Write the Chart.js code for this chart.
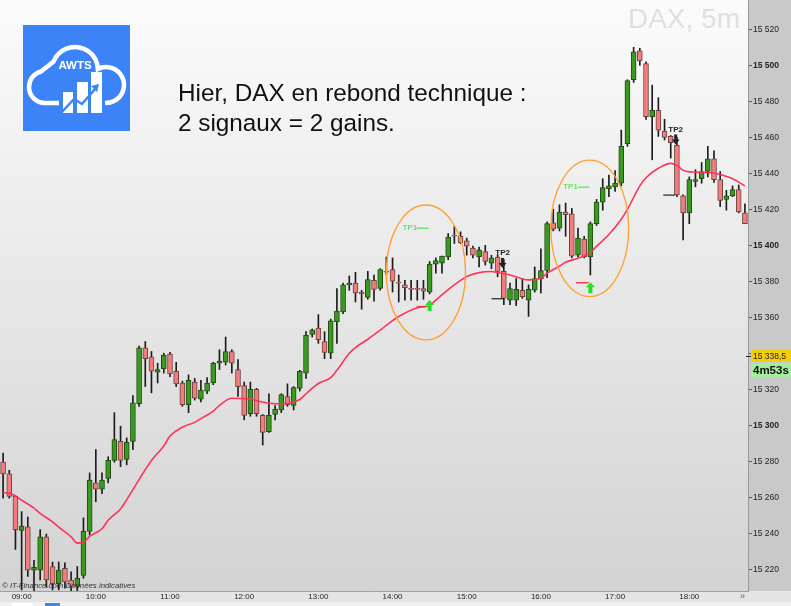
<!DOCTYPE html>
<html>
<head>
<meta charset="utf-8">
<script src="https://cdn.jsdelivr.net/npm/chart.js@4.4.0/dist/chart.umd.min.js"></script>
<style>
  html, body { margin: 0; padding: 0; background: #fff; overflow: hidden; }
  #wrap { width: 791px; height: 606px; position: relative; }
</style>
</head>
<body>
<div id="wrap"><canvas id="c" width="791" height="606"></canvas></div>
<script>
// DAX 5 minutes, 08:45 -> 18:45
const startMin = 8 * 60 + 45;
const nCandles = 121;
const times = [];
for (let k = 0; k < nCandles; k++) {
  const m = startMin + k * 5;
  times.push(String(Math.floor(m / 60)).padStart(2, '0') + ':' + String(m % 60).padStart(2, '0'));
}

const opens = [15279.5,15273,15260.5,15241.5,15243.5,15219.5,15219.5,15238,15221.5,15212,15220.5,15214,15210.5,15216.5,15241,15268,15264.5,15270.5,15280.5,15291,
  15281,15291,15312,15343,15338,15329.5,15331.5,15339.5,15330,15323.5,15311.5,15324,15314.5,15319,15323.5,15334.5,15335,15341,15331,15322,
  15306.5,15320,15305.5,15296.5,15306,15308.5,15316,15311,15320.5,15329,15350.5,15354,15346.5,15340,15357.5,15363,15378,15379,15374,15371,
  15380.5,15376,15385.5,15386.5,15379.5,15378,15376,15376,15376,15374,15389.5,15390,15393.5,15405.5,15405,15402.5,15398.5,15393.5,15396.5,15390,
  15393.5,15385.5,15369.5,15369.5,15375,15369.5,15375,15381.5,15386,15412.5,15409.5,15418.5,15417.5,15394.5,15403.5,15393.5,15412,15424,15431.5,15432.5,
  15434.5,15456.5,15492,15508,15501,15471.5,15475,15463.5,15460.5,15455.5,15427.5,15418,15435.5,15437,15441,15448,15436.5,15425.5,15427.5,15431,15418];
const highs = [15284.5,15275,15261,15252,15249,15225,15242,15239.5,15224,15224,15223.5,15218.5,15221.5,15248.5,15273.5,15286.5,15273.5,15282.5,15307,15299.5,
  15293,15316.5,15344,15346.5,15341,15334.5,15340,15340.5,15335,15324.5,15328,15326,15325,15326.5,15335,15342,15349,15342,15336.5,15324,
  15324,15320.5,15306,15317.5,15311,15317.5,15323,15321.5,15330.5,15352,15353.5,15361.5,15352,15359,15376,15379,15383,15385,15375,15385.5,
  15383.5,15387,15393.5,15393,15383.5,15380.5,15380.5,15380.5,15380.5,15391,15393,15394,15406.5,15410.5,15407.5,15404,15399.5,15399,15400,15394.5,
  15394.5,15392,15379,15381.5,15381.5,15378,15388,15398,15413,15420,15422.5,15423.5,15420.5,15409.5,15405,15413,15425.5,15437,15439,15441.5,
  15464,15492,15510,15509.5,15502,15489,15482,15470,15461,15460,15428,15438,15442,15446,15455,15452.5,15441,15430.5,15433,15433.5,15423];
const lows = [15259.5,15259.5,15231,15208.5,15216,15208,15214,15210,15208.5,15208.5,15209.5,15208,15208,15215,15239,15257.5,15262,15268,15279.5,15277,
  15278,15286.5,15310.5,15321.5,15318,15323.5,15329,15327,15321.5,15310.5,15307,15314,15313,15317.5,15322.5,15331,15333.5,15329,15316,15303,
  15305,15305,15289,15296,15303,15307,15310.5,15308.5,15319,15326,15349,15345.5,15337,15337,15345.5,15362,15375,15368.5,15364.5,15370,
  15369,15375,15383.5,15374,15368.5,15369.5,15369.5,15369.5,15370,15373,15384.5,15384.5,15392,15401,15401,15394.5,15393,15388,15389,15387,
  15382.5,15367,15367,15366.5,15370.5,15360.5,15374,15373.5,15382,15408,15408,15405,15393,15393.5,15393,15383.5,15411,15419.5,15427,15430,
  15433,15455,15490.5,15500,15470,15447.5,15460.5,15458.5,15448.5,15427,15403,15412,15432.5,15434.5,15438,15435,15421.5,15419.5,15427,15418,15412];
const closes = [15273,15260.5,15242,15244,15219.5,15221,15238,15214,15212,15219.5,15213,15210.5,15215,15241,15269.5,15264.5,15269.5,15280.5,15292,15280.5,
  15290.5,15312.5,15343,15337,15330,15331,15339,15328.5,15323,15311.5,15325,15315,15319.5,15323.5,15334.5,15335.5,15341,15334.5,15321.5,15305.5,
  15320,15306.5,15296,15305.5,15309,15317,15311.5,15321,15330,15350,15353,15347.5,15340.5,15358,15363.5,15378,15379,15373.5,15373,15381,
  15375.5,15386.5,15385,15380,15379,15376.5,15375.5,15375.5,15374.5,15389.5,15391.5,15394,15404.5,15405,15401.5,15399.5,15394.5,15397.5,15391,15393,
  15385.5,15370.5,15376,15375.5,15371.5,15375.5,15381.5,15386,15412,15409,15418.5,15417,15394,15404,15393.5,15412,15424,15432,15433,15434.5,
  15455,15491.5,15507.5,15502.5,15471.5,15475,15464,15460,15457,15428,15418,15436.5,15436.5,15441,15448,15436.5,15425,15427.5,15431,15418.5,15412];

// red moving average at these candles
const maIdx = [0,1,3,5,6,8,9,11,12,13,14,16,17,19,20,24,26,27,29,31,32,34,35,37,40,41,43,45,46,48,49,51,53,54,56,57,59,61,62,64,
  67,69,70,72,74,75,77,79,80,82,84,85,87,88,90,91,93,95,96,98,100,101,103,104,106,108,109,110,112,113,115,116,118,120];
const maVal = [15262.5,15262.3,15258.3,15254,15251,15246.3,15243.4,15238,15234.5,15235,15238.3,15242.5,15247.2,15253.5,15258.7,15280.4,15288.5,15294,15298.9,15301.6,
  15303.7,15307.9,15311,15315,15314.6,15313.7,15312.2,15311.8,15312.1,15314.3,15317.5,15323.2,15326.5,15330.5,15340,15343.2,15347.8,15352.9,15355.5,15360.4,
  15365.3,15366.6,15369.5,15375.4,15380.5,15382.7,15384.8,15385.4,15384.9,15383.5,15381.3,15380.8,15381.7,15384.5,15388.4,15390.6,15392.8,15395.9,15399.4,15406,
  15414.5,15420,15433,15437.5,15442.8,15445.5,15444.4,15441.7,15440.6,15440.5,15440.2,15439.3,15437,15433];

const yTicks = [15220,15240,15260,15280,15300,15320,15340,15360,15380,15400,15420,15440,15460,15480,15500,15520];
const lastPrice = 15338.5;

// signals: ellipse centre (candle, price), half sizes (candles, points)
const ellipses = [[68.4, 15384.9, 6.4, 37.5], [94.9, 15409.4, 6.3, 37.9]];
const tp1 = [[64.6, 66.9, 68.8, 15409.8], [90.6, 93.0, 94.8, 15432.6]];
const buys = [[69, 15369.6, 66.9, 68.5, 15365.9], [95, 15379.5, 92.7, 94.7, 15379.2]];
const tp2 = [[80.8, 15395.7, 79.0, 80.9, 15370.3], [108.8, 15464.4, 106.8, 108.7, 15427.9]];

const F = "'Liberation Sans', Arial, sans-serif";
const up = opens.map((o, i) => closes[i] >= o);
const bodies = opens.map((o, i) => [o, closes[i]]);
const wicks = lows.map((l, i) => [l, highs[i]]);
const ma = maIdx.map((k, j) => ({ x: times[k], y: maVal[j] }));

function fmt(v) { const s = String(v); return s.slice(0, 2) + ' ' + s.slice(2); }

function drawLogo(ctx) {
  ctx.save();
  ctx.fillStyle = '#3b83f6';
  ctx.fillRect(23, 25, 107, 106);
  ctx.strokeStyle = '#fff';
  ctx.lineWidth = 4.5;
  ctx.beginPath();
  ctx.arc(45, 87, 16, Math.PI * 0.5, Math.PI * 1.42);
  ctx.arc(75, 70, 23, Math.PI * 1.12, Math.PI * 1.92);
  ctx.arc(106, 85, 18, Math.PI * 1.35, Math.PI * 0.5);
  ctx.closePath();
  ctx.stroke();
  ctx.fillStyle = '#3b83f6';
  ctx.fillRect(59, 96, 46, 14);
  ctx.fillStyle = '#fff';
  ctx.fillRect(63, 92, 10, 21);
  ctx.fillRect(77, 82, 11, 31);
  ctx.fillRect(91, 72, 11, 41);
  ctx.strokeStyle = '#3b83f6';
  ctx.lineWidth = 2.5;
  ctx.beginPath();
  ctx.moveTo(61, 113); ctx.lineTo(74, 99); ctx.lineTo(82, 104); ctx.lineTo(96, 88);
  ctx.stroke();
  ctx.fillStyle = '#3b83f6';
  ctx.beginPath();
  ctx.moveTo(99, 84); ctx.lineTo(91, 86); ctx.lineTo(97, 92); ctx.closePath();
  ctx.fill();
  ctx.fillStyle = '#fff';
  ctx.font = 'bold 11.5px ' + F;
  ctx.textAlign = 'center';
  ctx.textBaseline = 'alphabetic';
  ctx.fillText('AWTS', 75, 68.5);
  ctx.restore();
}

const deco = {
  id: 'deco',
  beforeDraw(chart) {
    const { ctx, chartArea: a } = chart;
    ctx.save();
    const g = ctx.createLinearGradient(0, a.top, 0, a.bottom);
    g.addColorStop(0, '#fbfbfb');
    g.addColorStop(1, '#d3d3d3');
    ctx.fillStyle = g;
    ctx.fillRect(a.left, a.top, a.right - a.left, a.bottom - a.top);
    ctx.fillStyle = '#c9c9c9';
    ctx.fillRect(a.right, 0, chart.width - a.right, a.bottom);
    ctx.fillStyle = '#e4e4e4';
    ctx.fillRect(0, a.bottom, chart.width, chart.height - a.bottom);
    ctx.fillStyle = '#f0f0f0';
    ctx.fillRect(0, 602, chart.width, 4);
    ctx.fillStyle = '#fff'; ctx.fillRect(12, 603, 21, 3);
    ctx.fillStyle = '#3d8be0'; ctx.fillRect(45, 603, 15, 3);
    ctx.restore();
  },
  afterDatasetsDraw(chart) {
    const { ctx } = chart;
    const X = v => chart.scales.x.getPixelForValue(v);
    const Y = v => chart.scales.y.getPixelForValue(v);
    ctx.save();
    // orange ellipses
    ctx.strokeStyle = '#ffa033';
    ctx.lineWidth = 1.3;
    ellipses.forEach(([ci, cp, ri, rp]) => {
      ctx.beginPath();
      ctx.ellipse(X(ci), Y(cp), X(ci + ri) - X(ci), Y(cp - rp) - Y(cp), 0, 0, Math.PI * 2);
      ctx.stroke();
    });
    // TP1
    ctx.font = '8px ' + F;
    ctx.textBaseline = 'middle';
    ctx.textAlign = 'left';
    tp1.forEach(([ti, l0, l1, p]) => {
      ctx.fillStyle = '#33dd33';
      ctx.fillText('TP1', X(ti), Y(p));
      ctx.strokeStyle = '#33dd33';
      ctx.lineWidth = 1;
      ctx.beginPath(); ctx.moveTo(X(l0), Y(p) + 0.5); ctx.lineTo(X(l1), Y(p) + 0.5); ctx.stroke();
    });
    // buy signals: red level + green arrow
    buys.forEach(([ai, ap, l0, l1, lp]) => {
      ctx.strokeStyle = '#ff3344';
      ctx.lineWidth = 1.5;
      ctx.beginPath(); ctx.moveTo(X(l0), Y(lp)); ctx.lineTo(X(l1), Y(lp)); ctx.stroke();
      const x = X(ai), y = Y(ap);
      ctx.fillStyle = '#22e022';
      ctx.beginPath();
      ctx.moveTo(x, y); ctx.lineTo(x + 4.5, y + 5); ctx.lineTo(x + 2, y + 5); ctx.lineTo(x + 2, y + 11);
      ctx.lineTo(x - 2, y + 11); ctx.lineTo(x - 2, y + 5); ctx.lineTo(x - 4.5, y + 5); ctx.closePath();
      ctx.fill();
    });
    // TP2 with black arrow and black level
    tp2.forEach(([ti, p, l0, l1, lp]) => {
      const x = X(ti), y = Y(p);
      ctx.fillStyle = '#222';
      ctx.font = 'bold 8px ' + F;
      ctx.textAlign = 'center';
      ctx.fillText('TP2', x, y);
      ctx.beginPath();
      ctx.moveTo(x - 1.5, y + 5); ctx.lineTo(x + 1.5, y + 5); ctx.lineTo(x + 1.5, y + 10); ctx.lineTo(x + 4, y + 10);
      ctx.lineTo(x, y + 15); ctx.lineTo(x - 4, y + 10); ctx.lineTo(x - 1.5, y + 10); ctx.closePath();
      ctx.fill();
      ctx.strokeStyle = '#222';
      ctx.lineWidth = 1.2;
      ctx.beginPath(); ctx.moveTo(X(l0), Y(lp)); ctx.lineTo(X(l1), Y(lp)); ctx.stroke();
    });
    ctx.restore();
  },
  afterDraw(chart) {
    const { ctx, chartArea: a } = chart;
    const Y = v => chart.scales.y.getPixelForValue(v);
    ctx.save();
    drawLogo(ctx);
    ctx.fillStyle = '#111';
    ctx.font = '24.3px ' + F;
    ctx.textAlign = 'left';
    ctx.textBaseline = 'alphabetic';
    ctx.fillText('Hier, DAX en rebond technique :', 178, 101);
    ctx.fillText('2 signaux = 2 gains.', 178, 131);
    ctx.fillStyle = '#dcdfe4';
    ctx.font = '28px ' + F;
    ctx.textAlign = 'right';
    ctx.fillText('DAX, 5m', 740, 28);
    ctx.fillStyle = '#333';
    ctx.font = 'italic 7.8px ' + F;
    ctx.textAlign = 'left';
    ctx.textBaseline = 'middle';
    ctx.fillText('\u00a9 IT-Finance.com Donn\u00e9es indicatives', 2, 586);
    // last price + countdown
    const py = Y(lastPrice);
    ctx.fillStyle = '#f3cf0b';
    ctx.fillRect(a.right + 3, py - 6, 40, 12);
    ctx.fillStyle = '#222';
    ctx.fillRect(a.right - 2, py, 5, 1);
    ctx.font = '8.5px ' + F;
    ctx.fillText('15 338,5', a.right + 5, py + 0.5);
    ctx.fillStyle = '#a4ee9e';
    ctx.fillRect(a.right + 3, py + 7, 40, 14);
    ctx.fillStyle = '#111';
    ctx.font = 'bold 11.5px ' + F;
    ctx.fillText('4m53s', a.right + 5, py + 14.5);
    ctx.fillStyle = '#555';
    ctx.font = '9px ' + F;
    ctx.fillText('\u00bb', 740, 597);
    ctx.restore();
  }
};

new Chart(document.getElementById('c').getContext('2d'), {
  type: 'bar',
  data: {
    labels: times,
    datasets: [
      { type: 'line', label: 'MA', data: ma, borderColor: '#ff3358', borderWidth: 1.6, pointRadius: 0,
        spanGaps: true, cubicInterpolationMode: 'monotone', order: 0 },
      { label: 'body', data: bodies, grouped: false, barThickness: 5, minBarLength: 1,
        backgroundColor: up.map(u => u ? '#3a9a1f' : '#f47c7c'),
        borderColor: up.map(u => u ? '#1f4d12' : '#6a4444'),
        borderWidth: 1, borderSkipped: false, order: 1 },
      { label: 'wick', data: wicks, grouped: false, barThickness: 1, backgroundColor: '#1c1c1c', order: 2 }
    ]
  },
  options: {
    responsive: false,
    devicePixelRatio: 1,
    animation: false,
    layout: { padding: 0 },
    plugins: { legend: { display: false }, tooltip: { enabled: false } },
    scales: {
      x: {
        offset: true,
        afterFit: s => { s.height = 15; s.paddingLeft = 0; s.paddingRight = 0; },
        grid: { display: false, drawTicks: false },
        border: { display: true, color: '#a0a0a0' },
        ticks: {
          autoSkip: false, maxRotation: 0, minRotation: 0, padding: 1, color: '#222',
          font: { family: F, size: 8 },
          callback: (v, i) => times[i].endsWith(':00') ? times[i] : ''
        }
      },
      y: {
        position: 'right',
        min: 15207.9,
        max: 15536.3,
        afterBuildTicks: s => { s.ticks = yTicks.map(v => ({ value: v })); },
        afterFit: s => { s.width = 43; s.paddingTop = 0; s.paddingBottom = 0; },
        grid: { drawOnChartArea: false, drawTicks: true, tickLength: 4, tickColor: '#555' },
        border: { color: '#9a9a9a' },
        ticks: {
          padding: 1, color: '#222',
          font: c => ({ family: F, size: 8.5, weight: (c.tick && c.tick.value % 100 === 0) ? 'bold' : 'normal' }),
          callback: v => fmt(v)
        }
      }
    }
  },
  plugins: [deco]
});
</script>
</body>
</html>
